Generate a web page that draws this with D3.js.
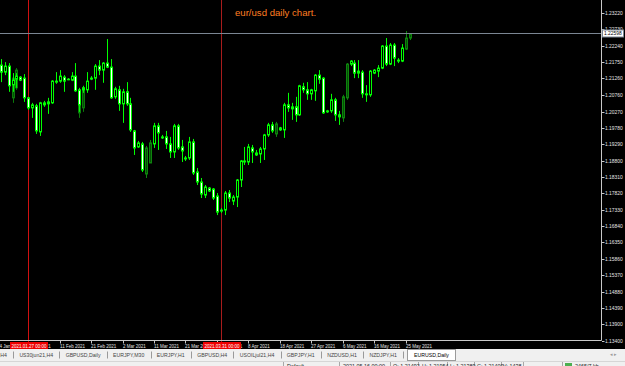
<!DOCTYPE html>
<html>
<head>
<meta charset="utf-8">
<script src="https://d3js.org/d3.v7.min.js"></script>
<style>
  html, body { margin:0; padding:0; background:#000; overflow:hidden; }
  svg { display:block; }
</style>
</head>
<body>
<svg id="chart" width="625" height="366"></svg>
<script>
// ── Data (EUR/USD daily) ────────────────────────────────────────────────────
var lastBarDate = "2021-05-26";

var opens  = [1.2166,1.2145,1.2163,1.2107,1.2124,1.2130,1.2127,1.2068,1.2038,1.2044,
              1.1966,1.2047,1.2050,1.2053,1.2115,1.2118,1.2130,1.2122,1.2121,1.2133,
              1.2092,1.2092,1.2092,1.2124,1.2127,1.2163,1.2151,1.2172,1.2160,1.2071,
              1.2092,1.2050,1.2086,1.2050,1.1969,1.1921,1.1930,1.1918,1.1873,1.1930,
              1.1984,1.1948,1.1951,1.1930,1.1906,1.1984,1.1921,1.1885,1.1888,1.1936,
              1.1846,1.1816,1.1777,1.1798,1.1795,1.1774,1.1729,1.1732,1.1783,1.1759,
              1.1771,1.1822,1.1876,1.1876,1.1918,1.1897,1.1900,1.1915,1.1957,1.1987,
              1.1990,1.1978,1.1972,1.2047,1.2035,1.2041,1.2017,1.2101,1.2092,1.2080,
              1.2089,1.2136,1.2127,1.2026,1.2029,1.2062,1.2017,1.2008,1.2068,1.2169,
              1.2172,1.2142,1.2145,1.2077,1.2077,1.2142,1.2148,1.2157,1.2223,1.2169,
              1.2226,1.2178,1.2178,1.2214,1.2247];
var highs  = [1.2184,1.2175,1.2172,1.2142,1.2142,1.2133,1.2139,1.2071,1.2053,1.2050,
              1.2056,1.2059,1.2068,1.2121,1.2145,1.2151,1.2136,1.2127,1.2145,1.2172,
              1.2098,1.2104,1.2145,1.2133,1.2169,1.2181,1.2175,1.2244,1.2184,1.2101,
              1.2104,1.2095,1.2115,1.2068,1.1972,1.1939,1.1936,1.1924,1.1942,1.1993,
              1.1993,1.1957,1.1969,1.1951,1.1990,1.1990,1.1942,1.1894,1.1951,1.1945,
              1.1858,1.1828,1.1807,1.1801,1.1798,1.1783,1.1738,1.1789,1.1792,1.1777,
              1.1825,1.1882,1.1921,1.1930,1.1927,1.1912,1.1921,1.1960,1.1993,1.1996,
              1.1996,1.1981,1.2053,1.2083,1.2053,1.2071,1.2107,1.2113,1.2115,1.2095,
              1.2139,1.2151,1.2130,1.2032,1.2080,1.2068,1.2029,1.2077,1.2172,1.2181,
              1.2181,1.2181,1.2151,1.2106,1.2151,1.2154,1.2166,1.2226,1.2247,1.2232,
              1.2232,1.2187,1.2229,1.2268,1.2262];
var lows   = [1.2115,1.2136,1.2086,1.2086,1.2098,1.2118,1.2056,1.2032,1.2008,1.1960,
              1.1954,1.2041,1.2020,1.2050,1.2110,1.2113,1.2086,1.2121,1.2118,1.2086,
              1.2026,1.2083,1.2083,1.2121,1.2092,1.2136,1.2113,1.2157,1.2065,1.2065,
              1.2029,1.1993,1.2044,1.1966,1.1897,1.1918,1.1846,1.1828,1.1873,1.1918,
              1.1912,1.1945,1.1915,1.1888,1.1888,1.1912,1.1876,1.1879,1.1882,1.1837,
              1.1807,1.1768,1.1768,1.1786,1.1762,1.1717,1.1723,1.1717,1.1756,1.1747,
              1.1741,1.1801,1.1867,1.1867,1.1873,1.1894,1.1873,1.1882,1.1951,1.1963,
              1.1951,1.1969,1.1948,1.2026,1.2002,1.1996,1.2014,1.2083,1.2062,1.2062,
              1.2059,1.2110,1.2020,1.2023,1.2023,1.1999,1.1987,1.1996,1.2062,1.2163,
              1.2127,1.2127,1.2068,1.2056,1.2071,1.2139,1.2130,1.2154,1.2163,1.2166,
              1.2163,1.2172,1.2175,1.2211,1.2241];
var closes = [1.2145,1.2163,1.2104,1.2121,1.2133,1.2121,1.2068,1.2038,1.2047,1.1969,
              1.2053,1.2053,1.2056,1.2118,1.2118,1.2133,1.2118,1.2124,1.2133,1.2089,
              1.2047,1.2098,1.2118,1.2127,1.2163,1.2151,1.2172,1.2160,1.2068,1.2095,
              1.2050,1.2086,1.2050,1.1972,1.1918,1.1933,1.1852,1.1840,1.1933,1.1984,
              1.1963,1.1951,1.1930,1.1906,1.1984,1.1918,1.1909,1.1888,1.1936,1.1843,
              1.1816,1.1780,1.1801,1.1789,1.1768,1.1726,1.1732,1.1783,1.1768,1.1771,
              1.1822,1.1879,1.1879,1.1921,1.1906,1.1903,1.1915,1.1957,1.1987,1.1969,
              1.1960,1.1972,1.2047,1.2038,1.2041,1.2017,1.2104,1.2092,1.2080,1.2092,
              1.2136,1.2124,1.2023,1.2029,1.2062,1.2017,1.2011,1.2071,1.2169,1.2178,
              1.2142,1.2148,1.2080,1.2080,1.2148,1.2151,1.2157,1.2223,1.2169,1.2226,
              1.2187,1.2181,1.2217,1.2247,1.22598];

// bars that the screenshot shows in the darker green
var dimBars = [37, 38, 70, 87, 88, 103, 104];

// darker candles that sit behind some of the bars: [bar, open, close, high, low]
var shadowCandles = [
  [3,  1.2127, 1.2068, 1.2142, 1.2053],
  [4,  1.2151, 1.2098, 1.2157, 1.2092],
  [20, 1.2083, 1.2023, 1.2092, 1.2008],
  [21, 1.2098, 1.2038, 1.2104, 1.2026]
];

var priceTicks = [1.23220,1.22730,1.22240,1.21750,1.21260,1.20760,1.20270,1.19780,
                  1.19290,1.18800,1.18310,1.17820,1.17330,1.16840,1.16350,1.15860,
                  1.15370,1.14880,1.14390,1.13900,1.13400];

var vLines = [
  { bar: 7,  label: "2021.01.27 00:00" },
  { bar: 56, label: "2021.03.31 00:00" }
];
var vLineColors = ["#d01010", "#a81c1c"];

var tabs = ["USDJPY,H4","US30jun21,H4","GBPUSD,Daily","EURJPY,M30","EURJPY,H1",
            "GBPUSD,H4","USOILjul21,H4","GBPJPY,H1","NZDUSD,H1","NZDJPY,H1"];
var activeTab = "EURUSD,Daily";

var statusItems = ["Default","2021.05.16 00:00","O: 1.21492","H: 1.21954",
                   "L: 1.21389","C: 1.21400","V: 1438"];

var titleText = "eur/usd daily chart.";

// ── Layout ──────────────────────────────────────────────────────────────────
var W = 625, H = 366;
var plotR = 601, plotB = 340;
var barStep = 3.93;
var N = closes.length;
var lastX = 410;

var svg = d3.select("#chart");
var FONT = "'Liberation Sans', Arial, sans-serif";

var x = d3.scaleLinear()
  .domain([0, N - 1])
  .range([lastX - (N - 1) * barStep, lastX]);

var y = d3.scaleLinear()
  .domain([1.13400, 1.23220])
  .range([341, 13]);

// trading days incl. Sunday bars (no Saturday), one extra in front
function tradeDates(end, n) {
  var d = new Date(end + "T00:00:00"), out = [];
  while (out.length < n) {
    if (d.getDay() !== 6) out.unshift(new Date(d));
    d.setDate(d.getDate() - 1);
  }
  return out;
}
var dates = tradeDates(lastBarDate, N + 1);   // dates[i+1] is bar i
var fmtDate = d3.timeFormat("%-d %b %Y");

svg.append("rect").attr("width", W).attr("height", H).attr("fill", "#000");

var plot = svg.append("g");
svg.append("clipPath").attr("id", "clip")
  .append("rect").attr("width", plotR).attr("height", plotB);
plot.attr("clip-path", "url(#clip)");

function px(v) { return Math.floor(v) + 0.5; }

// title
svg.append("text")
  .attr("x", 235).attr("y", 16)
  .attr("fill", "#ff7f22")
  .style("font-family", FONT).style("font-size", "9.6px")
  .text(titleText);

// vertical red lines
vLines.forEach(function(v, k) {
  plot.append("line")
    .attr("x1", px(x(v.bar))).attr("x2", px(x(v.bar)))
    .attr("y1", 0).attr("y2", plotB)
    .attr("stroke", vLineColors[k]).attr("stroke-width", 1);
});

// shadow candles
shadowCandles.forEach(function(c) {
  var cx = Math.floor(x(c[0]));
  plot.append("line")
    .attr("x1", cx + 0.5).attr("x2", cx + 0.5)
    .attr("y1", y(c[3])).attr("y2", y(c[4]))
    .attr("stroke", "#0b7a0b");
  plot.append("rect")
    .attr("x", cx - 0.5).attr("width", 2)
    .attr("y", y(Math.max(c[1], c[2]))).attr("height", Math.abs(y(c[1]) - y(c[2])))
    .attr("fill", "#064f06").attr("stroke", "#0b7a0b");
});

// candles
var idx = d3.range(N);
var candles = plot.selectAll(".candle").data(idx).join("g").attr("class", "candle");

candles.append("line")
  .attr("x1", function(i) { return Math.floor(x(i)) + 0.5; })
  .attr("x2", function(i) { return Math.floor(x(i)) + 0.5; })
  .attr("y1", function(i) { return y(highs[i]); })
  .attr("y2", function(i) { return y(lows[i]); })
  .attr("stroke", function(i) { return dimBars.indexOf(i) >= 0 ? "#0d850d" : "#00ff00"; });

candles.append("rect")
  .attr("x", function(i) { return Math.floor(x(i)) - 0.5; })
  .attr("width", 2)
  .attr("y", function(i) { return y(Math.max(opens[i], closes[i])); })
  .attr("height", function(i) { return Math.max(0.01, Math.abs(y(opens[i]) - y(closes[i]))); })
  .attr("fill", function(i) {
    if (dimBars.indexOf(i) >= 0) return "#064f06";
    return closes[i] >= opens[i] ? "#000" : "#fff";
  })
  .attr("stroke", function(i) { return dimBars.indexOf(i) >= 0 ? "#0d850d" : "#00ff00"; });

// current price line
var lastY = px(y(closes[N - 1]));
svg.append("line")
  .attr("x1", 0).attr("x2", plotR).attr("y1", lastY).attr("y2", lastY)
  .attr("stroke", "#7b8693");

// axes frame
svg.append("line").attr("x1", plotR + 0.5).attr("x2", plotR + 0.5)
  .attr("y1", 0).attr("y2", plotB + 0.5).attr("stroke", "#c8c8c8");
svg.append("line").attr("x1", 0).attr("x2", plotR + 0.5)
  .attr("y1", plotB + 0.5).attr("y2", plotB + 0.5).attr("stroke", "#c8c8c8");

// price axis
var yAxis = svg.append("g");
priceTicks.forEach(function(t) {
  var ty = Math.round(y(t)) + 0.5;
  yAxis.append("line").attr("x1", plotR + 1).attr("x2", plotR + 3.5)
    .attr("y1", ty).attr("y2", ty).attr("stroke", "#c8c8c8");
  yAxis.append("text")
    .attr("x", 605).attr("y", ty + 1.8)
    .attr("fill", "#e6e6e6")
    .style("font-family", FONT).style("font-size", "4.9px")
    .text(t.toFixed(5));
});

// current price box
svg.append("rect").attr("x", 602.5).attr("y", lastY - 3.5)
  .attr("width", 21).attr("height", 7)
  .attr("fill", "#fff").attr("stroke", "#7b8693");
svg.append("text").attr("x", 604).attr("y", lastY + 1.8)
  .attr("fill", "#000")
  .style("font-family", FONT).style("font-size", "4.9px")
  .text(closes[N - 1].toFixed(5));

// date axis
var dateTicks = d3.range(-1, N).filter(function(i) { return (N - 2 - i) % 8 === 0; });
var xAxis = svg.append("g");
dateTicks.forEach(function(i) {
  var tx = Math.floor(x(i)) + 0.5;
  xAxis.append("line").attr("x1", tx).attr("x2", tx)
    .attr("y1", plotB + 1).attr("y2", plotB + 3.5).attr("stroke", "#c8c8c8");
  xAxis.append("text")
    .attr("x", tx - 0.5).attr("y", plotB + 7.5)
    .attr("fill", "#e6e6e6")
    .style("font-family", FONT).style("font-size", "4.5px")
    .text(fmtDate(dates[i + 1]));
});

// red labels of the vertical lines
vLines.forEach(function(v) {
  var lx = Math.floor(x(v.bar)) + 0.5;
  svg.append("line").attr("x1", lx).attr("x2", lx)
    .attr("y1", plotB + 1).attr("y2", plotB + 2).attr("stroke", "#c40000");
  svg.append("rect").attr("x", lx - 18.5).attr("y", plotB + 2)
    .attr("width", 38).attr("height", 7).attr("fill", "#ee0000");
  svg.append("text").attr("x", lx + 0.5).attr("y", plotB + 7.6)
    .attr("text-anchor", "middle").attr("fill", "#fff")
    .style("font-family", FONT).style("font-size", "4.5px")
    .text(v.label);
});

// tab bar
var tabY = 349;
svg.append("rect").attr("x", 0).attr("y", tabY).attr("width", W).attr("height", 12)
  .attr("fill", "#f0f0f0");
var tabX = -21, tabGap = 12.5;
var tabG = svg.append("g").style("font-family", FONT).style("font-size", "5.2px");
tabs.forEach(function(t, k) {
  var node = tabG.append("text").attr("x", tabX).attr("y", tabY + 7.5)
    .attr("fill", "#444").text(t);
  var w = node.node().getComputedTextLength();
  tabX += w + tabGap / 2;
  tabG.append("line").attr("x1", Math.round(tabX) + 0.5).attr("x2", Math.round(tabX) + 0.5)
    .attr("y1", tabY + 2.5).attr("y2", tabY + 9.5).attr("stroke", "#9a9a9a");
  tabX += tabGap / 2;
});
var actX = Math.round(tabX) - 2, actW = 48;
svg.append("rect").attr("x", actX + 0.5).attr("y", tabY + 0.5)
  .attr("width", actW).attr("height", 11)
  .attr("fill", "#fff").attr("stroke", "#9a9a9a");
svg.append("text").attr("x", actX + actW / 2 + 0.5).attr("y", tabY + 7.5)
  .attr("text-anchor", "middle").attr("fill", "#000")
  .style("font-family", FONT).style("font-size", "5.2px")
  .text(activeTab);
svg.append("text").attr("x", 610).attr("y", tabY + 7).attr("fill", "#9a9a9a")
  .style("font-family", FONT).style("font-size", "5px").text("\u25C2  \u25B8");

// status bar
var stY = 361;
svg.append("rect").attr("x", 0).attr("y", stY).attr("width", W).attr("height", 5)
  .attr("fill", "#f0f0f0");
svg.append("line").attr("x1", 0).attr("x2", W).attr("y1", stY + 0.5).attr("y2", stY + 0.5)
  .attr("stroke", "#d6d6d6");
var stX = [287, 343, 393, 422, 450, 477, 503];
var stSep = [283, 339, 390, 418, 447, 474, 501, 523, 562];
stSep.forEach(function(s) {
  svg.append("line").attr("x1", s + 0.5).attr("x2", s + 0.5)
    .attr("y1", stY + 1).attr("y2", H).attr("stroke", "#a8a8a8");
});
statusItems.forEach(function(t, k) {
  svg.append("text").attr("x", stX[k]).attr("y", stY + 6.8)
    .attr("fill", "#222")
    .style("font-family", FONT).style("font-size", "5.4px")
    .text(t);
});
svg.append("rect").attr("x", 565).attr("y", stY + 2).attr("width", 7).attr("height", 4)
  .attr("fill", "#4caf50");
svg.append("text").attr("x", 575).attr("y", stY + 6.8).attr("fill", "#222")
  .style("font-family", FONT).style("font-size", "5.4px").text("2465/7 kb");
</script>
</body>
</html>
